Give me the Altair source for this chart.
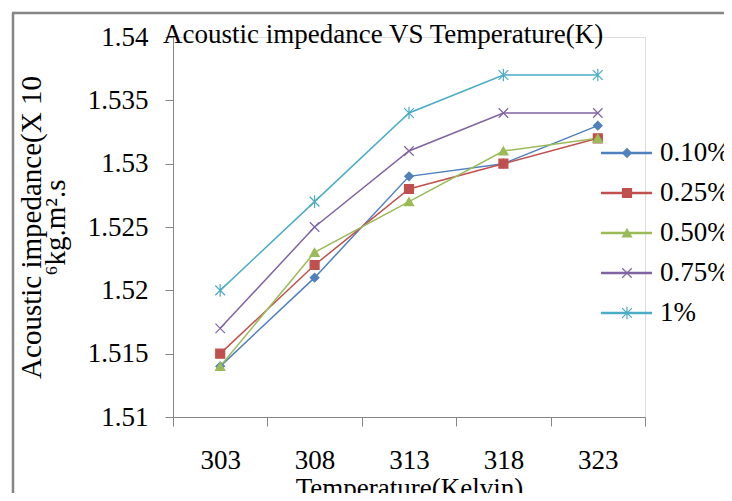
import altair as alt
import pandas as pd

temps = ["303", "308", "313", "318", "323"]
series = ["0.10%", "0.25%", "0.50%", "0.75%", "1%"]
v010 = [1.514, 1.521, 1.529, 1.530, 1.533]
v025 = [1.515, 1.522, 1.528, 1.530, 1.532]
v050 = [1.514, 1.523, 1.527, 1.531, 1.532]
v075 = [1.517, 1.525, 1.531, 1.534, 1.534]
v100 = [1.520, 1.527, 1.534, 1.537, 1.537]
y_ticks = [1.51, 1.515, 1.52, 1.525, 1.53, 1.535, 1.54]
title_text = "Acoustic impedance VS Temperature(K)"
y_title = ["Acoustic impedance(X 10", "⁶kg.m².s"]
x_title = "Temperature(Kelvin)"

colors = ["#4F81BD", "#C0504D", "#9BBB59", "#8064A2", "#4BACC6"]
shapes = ["diamond", "square", "triangle-up",
          "M-1,-1L1,1M-1,1L1,-1",
          "M-1,-1L1,1M-1,1L1,-1M0,-1.3L0,1.3"]
sizes = [75, 95, 85, 64, 64]

rows = []
for s, vals in zip(series, [v010, v025, v050, v075, v100]):
    for t, v in zip(temps, vals):
        rows.append({"series": s, "temp": t, "value": v})
df = pd.DataFrame(rows)
leg = pd.DataFrame({"series": series})

FONT = "Liberation Serif"
GRAY = "#868686"
W, H = 472, 380

color_scale = alt.Scale(domain=series, range=colors)
shape_scale = alt.Scale(domain=series, range=shapes)
size_scale = alt.Scale(domain=series, range=sizes)

x_enc = alt.X("temp:N", sort=temps,
              scale=alt.Scale(type="band", paddingInner=0, paddingOuter=0),
              axis=alt.Axis(title=x_title, labelAngle=0, tickBand="extent",
                            tickSize=9, tickColor=GRAY, domainColor=GRAY,
                            labelFont=FONT, labelFontSize=27, labelColor="black",
                            labelPadding=21, titleFont=FONT, titleFontSize=27,
                            titleFontWeight="normal", titleColor="black",
                            titleBaseline="alphabetic", titleY=79, grid=False))
y_enc = alt.Y("value:Q",
              scale=alt.Scale(domain=[1.51, 1.54], nice=False, zero=False),
              axis=alt.Axis(values=y_ticks, format=".3~f", title=y_title,
                            tickSize=8, tickColor=GRAY, domainColor=GRAY,
                            labelFont=FONT, labelFontSize=27, labelColor="black",
                            labelPadding=17, titleFont=FONT, titleFontSize=29,
                            titleFontWeight="normal", titleColor="black",
                            titleAngle=270, titleAlign="center",
                            titleBaseline="middle", titleX=-142, titleY=190,
                            titleLineHeight=24, grid=False))

frame = alt.Chart(pd.DataFrame({"a": [0]})).mark_rule(
    stroke=GRAY, strokeWidth=2.5
).encode(x=alt.value(-160), x2=alt.value(-160), y=alt.value(-24), y2=alt.value(2000))
frame_top = alt.Chart(pd.DataFrame({"a": [0]})).mark_rule(
    stroke=GRAY, strokeWidth=2.5
).encode(x=alt.value(-161), x2=alt.value(2000), y=alt.value(-24), y2=alt.value(-24))

lines = alt.Chart(df).mark_line(strokeWidth=1.5).encode(
    x=x_enc, y=y_enc,
    color=alt.Color("series:N", scale=color_scale, legend=None),
)
points = alt.Chart(df).mark_point(filled=True, strokeWidth=1.2, opacity=1).encode(
    x=alt.X("temp:N", sort=temps), y="value:Q",
    color=alt.Color("series:N", scale=color_scale, legend=None),
    stroke=alt.Stroke("series:N", scale=color_scale, legend=None),
    shape=alt.Shape("series:N", scale=shape_scale, legend=None),
    size=alt.Size("series:N", scale=size_scale, legend=None),
)

title = alt.Chart(pd.DataFrame({"t": [title_text]})).mark_text(
    align="left", baseline="alphabetic", font=FONT, fontSize=27, color="black"
).encode(x=alt.value(-10), y=alt.value(6), text="t:N")

leg_y = alt.Y("series:N", sort=series,
              scale=alt.Scale(type="point", domain=series, range=[116, 276], padding=0),
              axis=None)
leg_rule = alt.Chart(leg).mark_rule(strokeWidth=2.5).encode(
    x=alt.value(428), x2=alt.value(479), y=leg_y,
    color=alt.Color("series:N", scale=color_scale, legend=None),
)
leg_pt = alt.Chart(leg).mark_point(filled=True, strokeWidth=1.2, opacity=1).encode(
    x=alt.value(454), y=leg_y,
    color=alt.Color("series:N", scale=color_scale, legend=None),
    stroke=alt.Stroke("series:N", scale=color_scale, legend=None),
    shape=alt.Shape("series:N", scale=shape_scale, legend=None),
    size=alt.Size("series:N", scale=size_scale, legend=None),
)
leg_txt = alt.Chart(leg).mark_text(
    align="left", baseline="middle", font=FONT, fontSize=27, color="black"
).encode(x=alt.value(487), y=leg_y, text="series:N")

main = alt.layer(frame, frame_top, lines, points, title)
legend = alt.layer(leg_rule, leg_pt, leg_txt)

chart = alt.layer(main, legend).resolve_scale(y="independent").properties(
    width=W, height=H,
    autosize=alt.AutoSizeParams(type="none"),
    padding={"left": 165, "top": 29, "right": 79, "bottom": 76},
).configure_view(strokeWidth=0).configure(background="white")

chart.save("out.html", embed_options={"renderer": "svg", "actions": False})
